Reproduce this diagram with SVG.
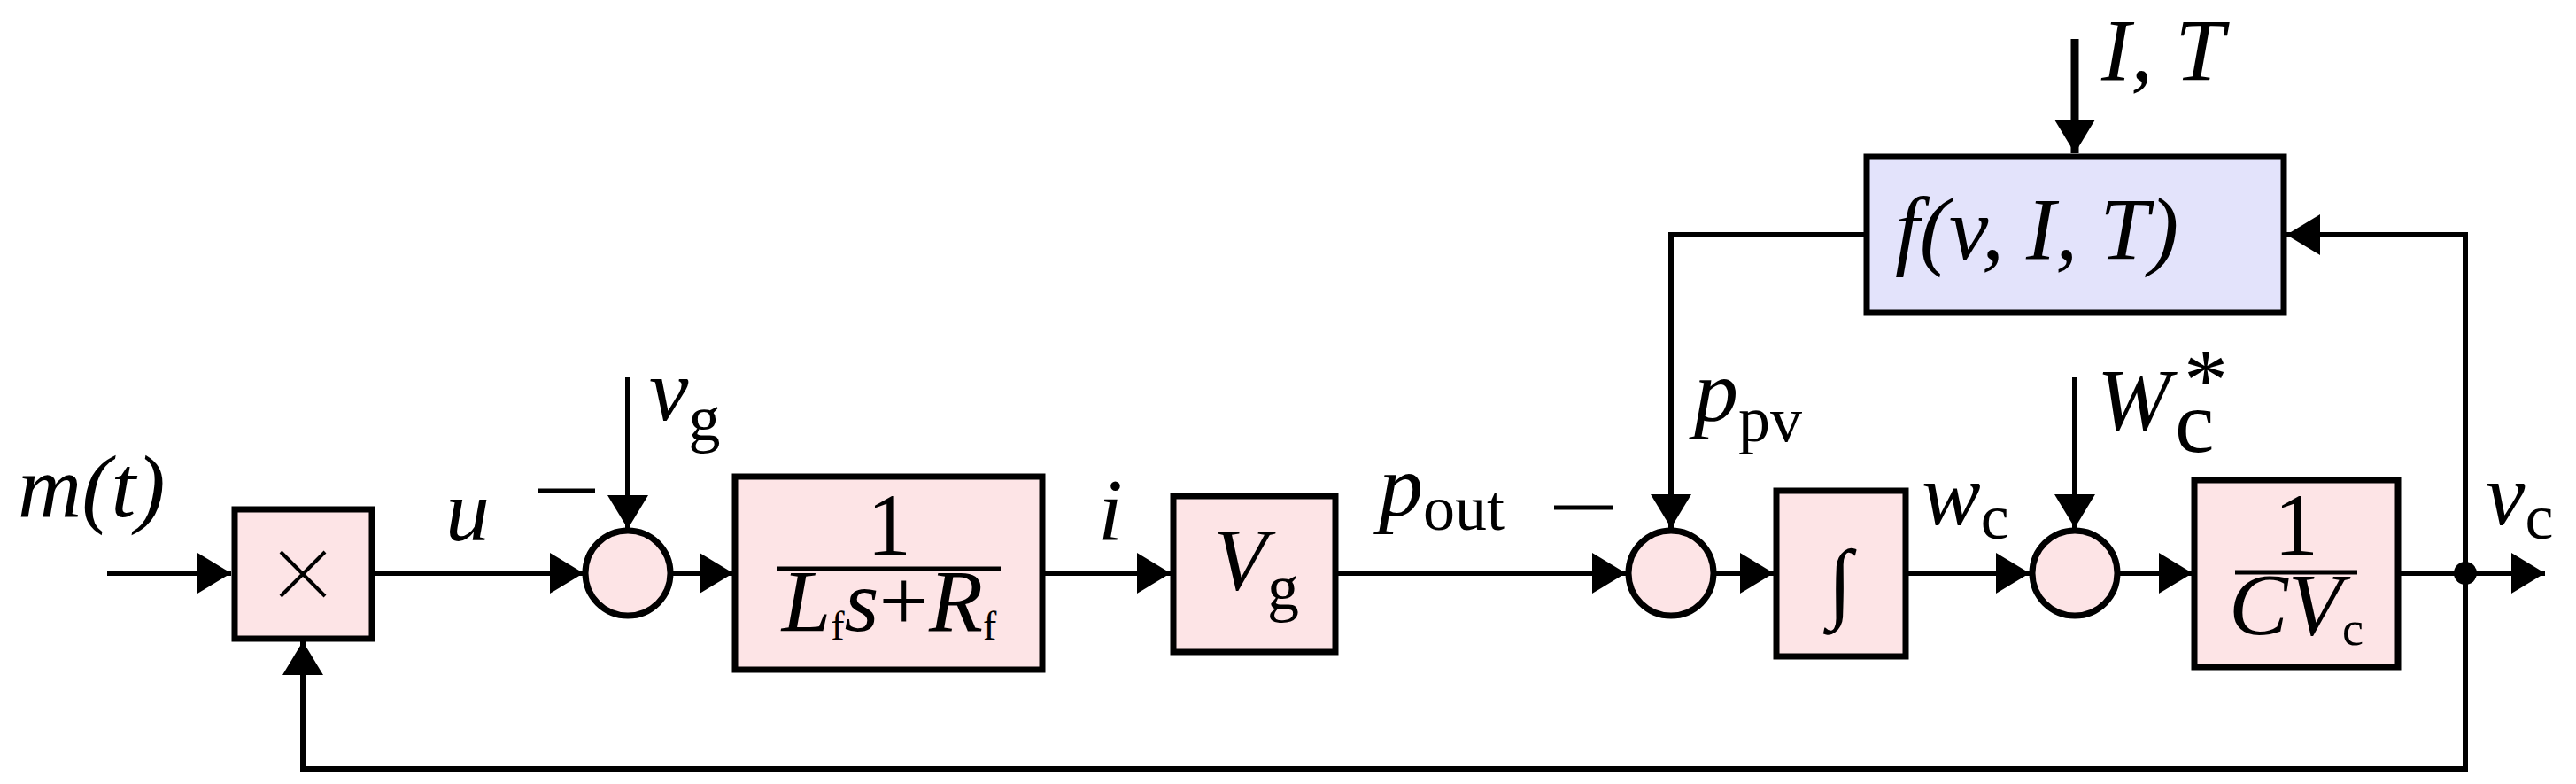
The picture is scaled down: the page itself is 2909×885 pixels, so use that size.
<svg xmlns="http://www.w3.org/2000/svg" width="2909" height="885" viewBox="0 0 2909 885">
<style>
.b{fill:#fde4e6;stroke:#000;stroke-width:7}
.f{fill:#e3e3fb;stroke:#000;stroke-width:7}
.l{fill:none;stroke:#000;stroke-width:6}
.t{font-family:"Liberation Serif",serif;font-style:italic;font-size:100px}
.r{font-family:"Liberation Serif",serif;font-size:100px}
.s{font-size:72px;font-style:normal}
</style>
<defs>
<marker id="a" markerUnits="userSpaceOnUse" markerWidth="40" markerHeight="46" refX="38" refY="23" orient="auto"><path d="M0,0L38,23L0,46Z" fill="#000"/></marker>
</defs>
<rect width="2909" height="885" fill="#fff"/>
<g id="connectors">
<path class="l" d="M121,647H261" marker-end="url(#a)"/>
<path class="l" d="M421,647H659" marker-end="url(#a)"/>
<path class="l" d="M709,426V597" marker-end="url(#a)"/>
<path class="l" d="M758,647H828" marker-end="url(#a)"/>
<path class="l" d="M1178,647H1322" marker-end="url(#a)"/>
<path class="l" d="M1509,647H1836" marker-end="url(#a)"/>
<path class="l" d="M2106,265H1887V596" marker-end="url(#a)"/>
<path class="l" d="M1937,647H2003" marker-end="url(#a)"/>
<path class="l" d="M2153,647H2292" marker-end="url(#a)"/>
<path class="l" d="M2343,426V596" marker-end="url(#a)"/>
<path class="l" d="M2393,647H2476" marker-end="url(#a)"/>
<path class="l" d="M2709,647H2874" marker-end="url(#a)"/>
<path class="l" d="M2784,647V868H342V724" marker-end="url(#a)"/>
<path class="l" d="M2784,647V265H2582" marker-end="url(#a)"/>
<path d="M2343,44V173" stroke="#000" stroke-width="9" marker-end="url(#a)"/>
<circle cx="2784" cy="647" r="13" fill="#000"/>
</g>
<g id="mult"><rect class="b" x="265" y="575" width="155" height="146"/><path d="M317,623L367,673M367,623L317,673" stroke="#000" stroke-width="4"/></g>
<g id="sum1"><circle class="b" cx="709" cy="647" r="48"/></g>
<g id="tf1"><rect class="b" x="830" y="538" width="347" height="218"/>
<text class="r" x="1004" y="626" text-anchor="middle" font-size="76">1</text>
<path d="M878,642H1130" stroke="#000" stroke-width="5"/>
<text class="t" x="1004" y="712" text-anchor="middle" font-size="62">L<tspan font-size="46" style="font-style:normal" dy="10">f</tspan><tspan dy="-10">s</tspan><tspan style="font-style:normal">+</tspan>R<tspan font-size="46" style="font-style:normal" dy="10">f</tspan></text></g>
<g id="vg"><rect class="b" x="1325" y="560" width="183" height="176"/><text class="t" x="1370" y="665">V<tspan class="s" dy="23">g</tspan></text></g>
<g id="f"><rect class="f" x="2108" y="177" width="471" height="176"/><text class="t" x="2140" y="292">f(v, I, T)</text></g>
<g id="sum2"><circle class="b" cx="1887" cy="647" r="48"/></g>
<g id="int"><rect class="b" x="2006" y="554" width="146" height="187"/><text class="t" x="2078" y="690" text-anchor="middle" font-size="120">∫</text></g>
<g id="sum3"><circle class="b" cx="2343" cy="647" r="48"/></g>
<g id="tf2"><rect class="b" x="2478" y="542" width="230" height="211"/>
<text class="r" x="2593" y="626" text-anchor="middle" font-size="76">1</text>
<path d="M2524,646H2662" stroke="#000" stroke-width="5"/>
<text class="t" x="2593" y="716" text-anchor="middle" font-size="74">CV<tspan font-size="54" style="font-style:normal" dy="12">c</tspan></text></g>
<g id="labels">
<text class="t" x="20" y="583">m(t)</text>
<text class="t" x="503" y="610">u</text>
<path d="M607,554H672" stroke="#000" stroke-width="5"/>
<text class="t" x="733" y="474">v<tspan class="s" dy="23">g</tspan></text>
<text class="t" x="1240" y="609">i</text>
<text class="t" x="1557" y="582">p<tspan class="s" dy="16">out</tspan></text>
<path d="M1755,573H1822" stroke="#000" stroke-width="5"/>
<text class="t" x="1913" y="475">p<tspan class="s" dy="23">pv</tspan></text>
<text class="t" x="2170" y="592">w<tspan class="s" dy="16">c</tspan></text>
<text class="t" x="2368" y="485">W</text>
<text class="r" x="2466" y="462" font-size="60">*</text>
<text class="r" x="2456" y="510" font-size="72">c</text>
<text class="t" x="2373" y="90">I, T</text>
<text class="t" x="2807" y="592">v<tspan class="s" dy="16">c</tspan></text>
</g>
</svg>
